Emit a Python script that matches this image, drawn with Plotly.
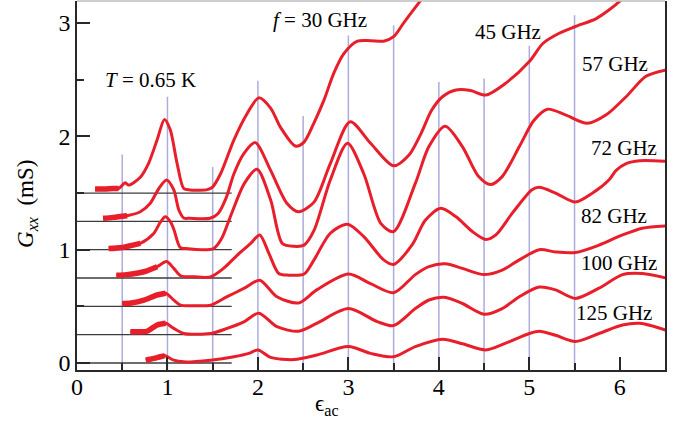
import plotly.graph_objects as go

# ---------------- data ----------------
x30 = [0.20, 0.30, 0.40, 0.46, 0.535, 0.57, 0.70, 0.79, 0.886, 0.967, 1.03, 1.107, 1.18, 1.25, 1.35, 1.44,
       1.495, 1.587, 1.735, 1.88, 2.01, 2.14, 2.25, 2.414, 2.51, 2.62, 2.73, 2.84, 2.95, 3.10, 3.245, 3.39,
       3.50, 3.61, 3.80, 3.90]
y30 = [1.535, 1.535, 1.54, 1.54, 1.59, 1.57, 1.64, 1.76, 1.97, 2.15, 2.06, 1.76, 1.54, 1.527, 1.525, 1.53,
       1.55, 1.67, 1.97, 2.20, 2.34, 2.25, 2.08, 1.915, 1.95, 2.12, 2.32, 2.56, 2.73, 2.84, 2.845, 2.84,
       2.88, 3.00, 3.20, 3.30]

x45 = [0.288, 0.40, 0.554, 0.70, 0.81, 0.905, 0.99, 1.07, 1.126, 1.18, 1.25, 1.47, 1.56, 1.65, 1.735, 1.846,
       1.97, 2.14, 2.32, 2.45, 2.62, 2.80, 3.02, 3.245, 3.50, 3.67, 3.80, 3.92, 4.04, 4.19, 4.35, 4.52, 4.74,
       5.00, 5.15, 5.33, 5.51, 5.74, 5.88, 6.01, 6.12]
y45 = [1.277, 1.285, 1.30, 1.335, 1.41, 1.54, 1.615, 1.527, 1.35, 1.28, 1.277, 1.277, 1.32, 1.46, 1.67, 1.85,
       1.945, 1.70, 1.41, 1.335, 1.42, 1.76, 2.13, 1.94, 1.74, 1.835, 2.02, 2.23, 2.35, 2.41, 2.405, 2.365, 2.47,
       2.66, 2.82, 2.91, 2.97, 3.04, 3.115, 3.20, 3.29]

x57 = [0.35, 0.50, 0.70, 0.845, 0.92, 0.975, 1.03, 1.07, 1.14, 1.20, 1.51, 1.60, 1.70, 1.85, 1.99, 2.14,
       2.27, 2.40, 2.51, 2.62, 2.80, 2.99, 3.17, 3.36, 3.50, 3.74, 3.89, 4.07, 4.26, 4.44, 4.57,
       4.70, 4.89, 5.05, 5.20, 5.40, 5.64, 5.85, 6.07, 6.29, 6.51]
y57 = [1.01, 1.02, 1.055, 1.14, 1.24, 1.29, 1.25, 1.18, 1.02, 1.01, 1.01, 1.10, 1.30, 1.585, 1.71, 1.44,
       1.055, 1.03, 1.04, 1.17, 1.615, 1.94, 1.67, 1.23, 1.16, 1.585, 1.91, 2.09, 1.91, 1.645, 1.575,
       1.645, 1.91, 2.14, 2.24, 2.19, 2.115, 2.19, 2.35, 2.53, 2.585]

x72 = [0.435, 0.55, 0.74, 0.886, 0.99, 1.07, 1.145, 1.30, 1.476, 1.62, 1.77, 1.92, 2.02, 2.12, 2.23, 2.34,
       2.51, 2.62, 2.80, 2.99, 3.17, 3.39, 3.50, 3.71, 3.85, 4.02, 4.19, 4.37, 4.52, 4.63, 4.81, 5.03,
       5.11, 5.29, 5.51, 5.70, 5.88, 5.96, 6.07, 6.22, 6.51]
y72 = [0.775, 0.78, 0.805, 0.85, 0.895, 0.835, 0.77, 0.76, 0.76, 0.835, 0.95, 1.055, 1.13, 0.97, 0.79, 0.775,
       0.785, 0.91, 1.145, 1.225, 1.115, 0.91, 0.87, 1.05, 1.26, 1.365, 1.29, 1.16, 1.09, 1.13, 1.32, 1.53,
       1.55, 1.50, 1.42, 1.50, 1.615, 1.70, 1.76, 1.785, 1.78]

x82 = [0.50, 0.60, 0.74, 0.886, 0.98, 1.07, 1.145, 1.30, 1.476, 1.66, 1.85, 2.02, 2.21, 2.45, 2.65, 3.00,
       3.245, 3.50, 3.74, 3.89, 4.07, 4.26, 4.50, 4.70, 4.89, 5.11, 5.29, 5.51, 5.77, 6.03, 6.25, 6.51]
y82 = [0.525, 0.53, 0.555, 0.60, 0.615, 0.555, 0.51, 0.505, 0.51, 0.585, 0.66, 0.73, 0.585, 0.53, 0.645, 0.785,
       0.70, 0.62, 0.78, 0.85, 0.875, 0.835, 0.78, 0.82, 0.91, 1.00, 0.98, 0.975, 1.04, 1.13, 1.19, 1.21]

x100 = [0.59, 0.70, 0.775, 0.886, 0.98, 1.07, 1.18, 1.476, 1.66, 1.85, 2.01, 2.21, 2.45, 2.65, 3.00, 3.32,
        3.50, 3.74, 3.89, 4.06, 4.26, 4.50, 4.70, 4.89, 5.11, 5.29, 5.51, 5.77, 6.03, 6.25, 6.51]
y100 = [0.275, 0.275, 0.28, 0.335, 0.35, 0.305, 0.26, 0.26, 0.305, 0.365, 0.44, 0.32, 0.28, 0.35, 0.48, 0.365,
        0.33, 0.48, 0.556, 0.58, 0.525, 0.43, 0.48, 0.585, 0.67, 0.645, 0.57, 0.66, 0.78, 0.79, 0.75]

x125 = [0.76, 0.85, 0.92, 0.97, 1.07, 1.18, 1.476, 1.735, 1.90, 2.00, 2.14, 2.40, 2.65, 3.00, 3.245, 3.50,
        3.74, 4.04, 4.26, 4.52, 4.74, 5.00, 5.11, 5.29, 5.51, 5.77, 6.03, 6.22, 6.51]
y125 = [0.025, 0.04, 0.055, 0.065, 0.025, 0.01, 0.025, 0.055, 0.085, 0.115, 0.05, 0.03, 0.07, 0.145, 0.085, 0.055,
        0.145, 0.21, 0.17, 0.115, 0.175, 0.26, 0.28, 0.245, 0.19, 0.26, 0.335, 0.35, 0.29]

# end of the noisy (thick) starting part of each trace
thick_end = [0.46, 0.56, 0.70, 0.90, 1.00, 1.00, 0.98]

baselines = [0.0, 0.25, 0.5, 0.75, 1.0, 1.25, 1.5]
baseline_x = [0.0, 1.71]

vline_x = [0.5, 1.0, 1.5, 2.0, 2.5, 3.0, 3.5, 4.0, 4.5, 5.0, 5.5]
vline_top = [1.84, 2.35, 1.73, 2.49, 2.18, 2.89, 2.98, 2.48, 2.51, 2.80, 3.07]

label_text = ["<i>T</i> = 0.65 K", "<i>f</i> = 30 GHz", "45 GHz", "57 GHz", "72 GHz", "82 GHz",
              "100 GHz", "125 GHz"]
label_x = [0.81, 2.69, 4.76, 5.95, 6.05, 5.94, 5.99, 5.94]
label_y = [2.50, 3.03, 2.92, 2.64, 1.90, 1.30, 0.88, 0.44]

x_title = "ϵ<sub>ac</sub>"
y_title = "<i>G</i><sub><i>xx</i></sub>  (mS)"

# ---------------- figure ----------------
RED = "rgb(232,30,42)"
FONT = "Liberation Serif, Times New Roman, serif"
AX = "rgb(40,40,40)"
curves = [(x30, y30), (x45, y45), (x57, y57), (x72, y72), (x82, y82), (x100, y100), (x125, y125)]

fig = go.Figure()
for (xs, ys), te in zip(curves, thick_end):
    fig.add_trace(go.Scatter(x=xs, y=ys, mode="lines",
                             line=dict(color=RED, width=3, shape="spline", smoothing=0.8),
                             hoverinfo="skip"))
    tx = [a for a in xs if a <= te]
    ty = [b for a, b in zip(xs, ys) if a <= te]
    fig.add_trace(go.Scatter(x=tx, y=ty, mode="lines",
                             line=dict(color=RED, width=5.5, shape="spline", smoothing=0.8),
                             hoverinfo="skip"))

shapes = []
for vx, vt in zip(vline_x, vline_top):
    shapes.append(dict(type="line", xref="x", yref="y", x0=vx, x1=vx, y0=-0.062, y1=vt,
                       line=dict(color="rgb(172,172,222)", width=1.5), layer="below"))
for b in baselines:
    shapes.append(dict(type="line", xref="x", yref="y", x0=baseline_x[0], x1=baseline_x[1], y0=b, y1=b,
                       line=dict(color="rgb(60,60,60)", width=1.3), layer="below"))
# light top frame line
shapes.append(dict(type="line", xref="paper", yref="paper", x0=0, x1=1, y0=1, y1=1,
                   line=dict(color="rgb(190,190,190)", width=1.5)))

annotations = []
for t, ax, ay in zip(label_text, label_x, label_y):
    annotations.append(dict(x=ax, y=ay, xref="x", yref="y", text=t, showarrow=False,
                            font=dict(family=FONT, size=21, color="black")))
# axis titles placed like the reference
annotations.append(dict(x=0.425, y=-0.095, xref="paper", yref="paper", text=x_title, showarrow=False,
                        xanchor="center", yanchor="middle", font=dict(family=FONT, size=23, color="black")))
annotations.append(dict(x=-0.085, y=0.45, xref="paper", yref="paper", text=y_title, showarrow=False,
                        textangle=-90, xanchor="center", yanchor="middle",
                        font=dict(family=FONT, size=23, color="black")))

axis_common = dict(showgrid=False, zeroline=False, showline=True, linecolor=AX, linewidth=1.5,
                   ticks="inside", ticklen=13, tickwidth=1.5, tickcolor=AX,
                   tickfont=dict(family=FONT, size=24, color="black"))

fig.update_layout(
    width=695, height=424,
    margin=dict(l=77, r=30, t=1, b=54),
    plot_bgcolor="white", paper_bgcolor="white",
    showlegend=False,
    font=dict(family=FONT, size=21, color="black"),
    shapes=shapes, annotations=annotations,
    xaxis=dict(range=[0, 6.5], tickvals=[0, 1, 2, 3, 4, 5, 6], mirror=False, ticklabelstandoff=-6,
               minor=dict(tickvals=[0.5, 1.5, 2.5, 3.5, 4.5, 5.5], ticks="inside", ticklen=7,
                          tickcolor=AX, tickwidth=1.5),
               **axis_common),
    yaxis=dict(range=[-0.062, 3.195], tickvals=[0, 1, 2, 3], mirror=True,
               minor=dict(tickvals=[0.5, 1.5, 2.5], ticks="inside", ticklen=7,
                          tickcolor=AX, tickwidth=1.5),
               **axis_common),
)

fig.write_html("out.html")
